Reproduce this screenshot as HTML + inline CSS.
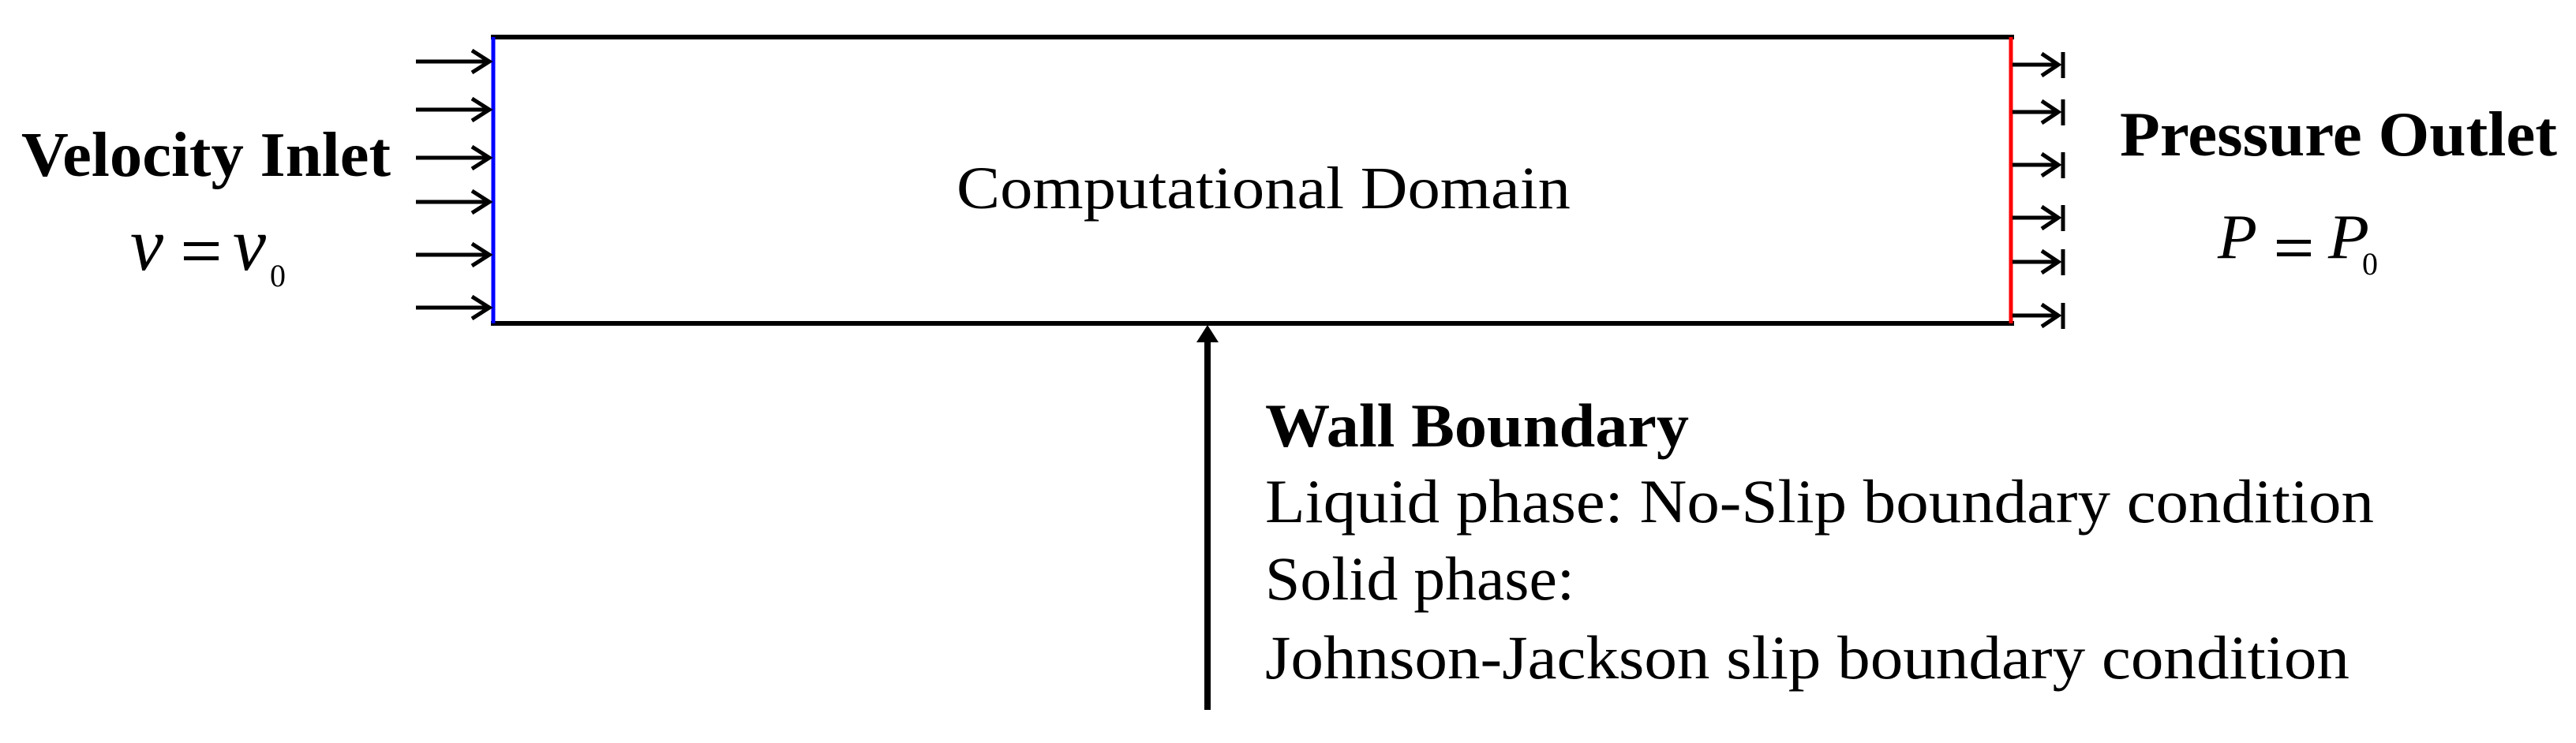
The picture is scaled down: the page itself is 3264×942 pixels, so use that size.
<!DOCTYPE html>
<html><head><meta charset="utf-8"><style>html,body{margin:0;padding:0;background:#fff;}svg{display:block}</style></head>
<body>
<svg width="3264" height="942" viewBox="0 0 3264 942" xmlns="http://www.w3.org/2000/svg" font-family="'Liberation Serif', serif">
<rect width="3264" height="942" fill="#fff"/>
<line x1="622" y1="47" x2="2552" y2="47" stroke="#000" stroke-width="6"/>
<line x1="622" y1="410" x2="2552" y2="410" stroke="#000" stroke-width="6"/>
<line x1="625" y1="47" x2="625" y2="410" stroke="#0000ff" stroke-width="5"/>
<line x1="2548" y1="47" x2="2548" y2="410" stroke="#ff0000" stroke-width="5"/>
<g stroke="#000" stroke-width="5" fill="none">
<path d="M527 78H620M598 64L620 78L598 92"/>
<path d="M527 139H620M598 125L620 139L598 153"/>
<path d="M527 200H620M598 186L620 200L598 214"/>
<path d="M527 256H620M598 242L620 256L598 270"/>
<path d="M527 323H620M598 309L620 323L598 337"/>
<path d="M527 390H620M598 376L620 390L598 404"/>
</g>
<g stroke="#000" stroke-width="5" fill="none">
<path d="M2550 82H2608M2587 68L2608 82L2587 96M2614 66V99"/>
<path d="M2550 142H2608M2587 128L2608 142L2587 156M2614 126V159"/>
<path d="M2550 209H2608M2587 195L2608 209L2587 223M2614 193V226"/>
<path d="M2550 276H2608M2587 262L2608 276L2587 290M2614 260V293"/>
<path d="M2550 332H2608M2587 318L2608 332L2587 346M2614 316V349"/>
<path d="M2550 400H2608M2587 386L2608 400L2587 414M2614 384V417"/>
</g>
<line x1="1530" y1="900" x2="1530" y2="428" stroke="#000" stroke-width="8"/>
<path d="M1530 412L1516 434L1544 434Z" fill="#000"/>
<text x="27" y="223" font-size="80" font-weight="bold" textLength="468" lengthAdjust="spacingAndGlyphs">Velocity Inlet</text>
<text x="165" y="342" font-size="96" font-style="italic" textLength="42" lengthAdjust="spacingAndGlyphs">v</text>
<rect x="233" y="307" width="44" height="5" fill="#000"/>
<rect x="233" y="325" width="44" height="5" fill="#000"/>
<text x="295" y="342" font-size="96" font-style="italic" textLength="42" lengthAdjust="spacingAndGlyphs">v</text>
<text x="342" y="363" font-size="40" textLength="20" lengthAdjust="spacingAndGlyphs">0</text>
<text x="2686" y="197" font-size="80" font-weight="bold" textLength="554" lengthAdjust="spacingAndGlyphs">Pressure Outlet</text>
<text x="2810" y="327" font-size="80" font-style="italic" textLength="50" lengthAdjust="spacingAndGlyphs">P</text>
<rect x="2885" y="304" width="43" height="5" fill="#000"/>
<rect x="2885" y="320" width="43" height="5" fill="#000"/>
<text x="2950" y="327" font-size="80" font-style="italic" textLength="52" lengthAdjust="spacingAndGlyphs">P</text>
<text x="2993" y="348" font-size="40" textLength="20" lengthAdjust="spacingAndGlyphs">0</text>
<text x="1212" y="264" font-size="76" textLength="778" lengthAdjust="spacingAndGlyphs">Computational Domain</text>
<text x="1603" y="566" font-size="78" font-weight="bold" textLength="537" lengthAdjust="spacingAndGlyphs">Wall Boundary</text>
<text x="1603" y="662" font-size="78" textLength="1405" lengthAdjust="spacingAndGlyphs">Liquid phase: No-Slip boundary condition</text>
<text x="1603" y="760" font-size="78" textLength="392" lengthAdjust="spacingAndGlyphs">Solid phase:</text>
<text x="1603" y="860" font-size="78" textLength="1374" lengthAdjust="spacingAndGlyphs">Johnson-Jackson slip boundary condition</text>
</svg>
</body></html>
